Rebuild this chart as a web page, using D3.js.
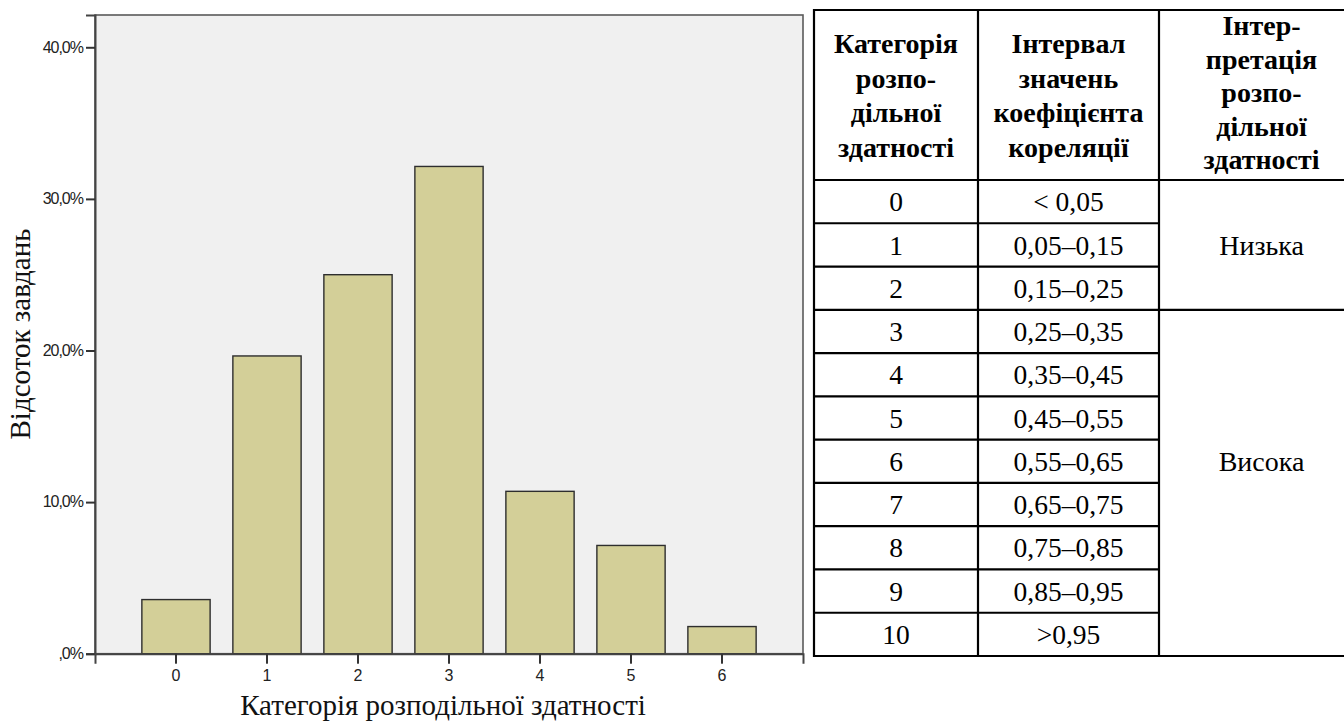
<!DOCTYPE html>
<html><head><meta charset="utf-8">
<script src="https://cdn.jsdelivr.net/npm/d3@7/dist/d3.min.js"></script>
<style>
body{margin:0;background:#fff;overflow:hidden;}
svg{display:block;}
</style></head>
<body>
<svg id="chart" width="1344" height="721"></svg>
<script>
// ---- Data ----
const categories = ["0","1","2","3","4","5","6"];
const percentValues = [3.57, 19.64, 25.0, 32.14, 10.71, 7.14, 1.79];
const yTickValues = [0, 10, 20, 30, 40];
const yTickLabels = [",0%", "10,0%", "20,0%", "30,0%", "40,0%"];
const xTitle = "Категорія розподільної здатності";
const yTitle = "Відсоток завдань";

const headerCols = [
  ["Категорія","розпо-","дільної","здатності"],
  ["Інтервал","значень","коефіцієнта","кореляції"],
  ["Інтер-","претація","розпо-","дільної","здатності"]
];
const tableCategories = ["0","1","2","3","4","5","6","7","8","9","10"];
const tableIntervals = ["< 0,05","0,05–0,15","0,15–0,25","0,25–0,35","0,35–0,45","0,45–0,55","0,55–0,65","0,65–0,75","0,75–0,85","0,85–0,95",">0,95"];
const interpretGroups = [
  {label:"Низька", from:0, to:2, labelRow:1},
  {label:"Висока", from:3, to:10, labelRow:6}
];

// ---- Chart ----
const svg = d3.select("#chart");
const plot = {left:95, right:803, top:15, bottom:653.7};
const serif = "'Liberation Serif', Tinos, 'Times New Roman', Times, 'DejaVu Serif', serif";
const tickFont = "'Liberation Sans', Arimo, Arial, sans-serif";

const x = d3.scaleBand().domain(categories).range([plot.left, plot.right])
  .paddingInner(0.25).paddingOuter(0.515);
const y = d3.scaleLinear().domain([0, 42.13]).range([plot.bottom, plot.top]);

svg.append("rect").attr("x",plot.left).attr("y",plot.top)
  .attr("width",plot.right-plot.left).attr("height",plot.bottom-plot.top)
  .attr("fill","#f0f0f0").attr("stroke","#5a5a5a").attr("stroke-width",1.6);

svg.append("g").selectAll("rect").data(percentValues).join("rect")
  .attr("x",(d,i)=>x(categories[i]))
  .attr("y",d=>y(d))
  .attr("width",x.bandwidth())
  .attr("height",d=>y(0)-y(d))
  .attr("fill","#d3cf98").attr("stroke","#2e2e2e").attr("stroke-width",1.4);

const yAxis = d3.axisLeft(y).tickValues(yTickValues)
  .tickFormat((d,i)=>yTickLabels[i]).tickSize(9).tickPadding(3);
const gy = svg.append("g").attr("transform",`translate(${plot.left},0)`).call(yAxis);
gy.attr("font-family",null).attr("font-size",null);
gy.select(".domain").attr("stroke","#444").attr("stroke-width",2);
gy.selectAll(".tick line").attr("stroke","#333").attr("stroke-width",2);
gy.selectAll(".tick text").style("font-family",tickFont).style("font-size","16px")
  .style("letter-spacing","-1px").attr("fill","#222").attr("dy","0.3em");

const xAxis = d3.axisBottom(x).tickSize(10).tickPadding(6);
const gx = svg.append("g").attr("transform",`translate(0,${plot.bottom})`).call(xAxis);
gx.attr("font-family",null).attr("font-size",null);
gx.select(".domain").attr("stroke","#444").attr("stroke-width",2);
gx.selectAll(".tick line").attr("stroke","#333").attr("stroke-width",2);
gx.selectAll(".tick text").style("font-family",tickFont).style("font-size","16px").attr("fill","#222");

svg.append("text").attr("x",443).attr("y",715)
  .attr("text-anchor","middle").style("font-family",serif)
  .style("font-size","29px").attr("fill","#111").text(xTitle);
svg.append("text").attr("transform","translate(30,334) rotate(-90)")
  .attr("text-anchor","middle").style("font-family",serif)
  .style("font-size","29px").attr("fill","#111").text(yTitle);

// ---- Table ----
const colX = [814, 978, 1159, 1364];
const tTop = 10, hBottom = 180, tBottom = 656;
const rowY = d3.scaleLinear().domain([0, tableCategories.length]).range([hBottom, tBottom]);
const tbl = svg.append("g");
const lineStyle = s => s.attr("stroke","#000").attr("stroke-width",2.2);

const headerLineH = [34.7, 34.7, 33.6];
const headerStartY = [53, 53, 35];
headerCols.forEach((lines,c)=>{
  const cx = (colX[c]+colX[c+1])/2;
  lines.forEach((t,k)=>{
    tbl.append("text").attr("x",cx).attr("y",headerStartY[c]+k*headerLineH[c])
      .attr("text-anchor","middle").style("font-family",serif).style("font-weight","bold")
      .style("font-size","28px").attr("fill","#000").text(t);
  });
});
tableCategories.forEach((t,i)=>{
  const cy = (rowY(i)+rowY(i+1))/2;
  tbl.append("text").attr("x",(colX[0]+colX[1])/2).attr("y",cy).attr("dy","0.35em")
    .attr("text-anchor","middle").style("font-family",serif).style("font-size","27.5px").attr("fill","#000").text(t);
  tbl.append("text").attr("x",(colX[1]+colX[2])/2).attr("y",cy).attr("dy","0.35em")
    .attr("text-anchor","middle").style("font-family",serif).style("font-size","27.5px").attr("fill","#000").text(tableIntervals[i]);
});
interpretGroups.forEach(g=>{
  const cy = (rowY(g.labelRow)+rowY(g.labelRow+1))/2;
  tbl.append("text").attr("x",(colX[2]+colX[3])/2).attr("y",cy).attr("dy","0.35em")
    .attr("text-anchor","middle").style("font-family",serif).style("font-size","28px").attr("fill","#000").text(g.label);
});
lineStyle(tbl.append("line").attr("x1",colX[0]-1).attr("x2",colX[3]+1).attr("y1",tTop).attr("y2",tTop));
lineStyle(tbl.append("line").attr("x1",colX[0]).attr("x2",colX[3]).attr("y1",hBottom).attr("y2",hBottom));
lineStyle(tbl.append("line").attr("x1",colX[0]-1).attr("x2",colX[3]+1).attr("y1",tBottom).attr("y2",tBottom));
colX.forEach(xx=>lineStyle(tbl.append("line").attr("x1",xx).attr("x2",xx).attr("y1",tTop-1).attr("y2",tBottom+1)));
d3.range(1, tableCategories.length).forEach(i=>{
  const inGroupEnd = interpretGroups.some(g=>g.to+1===i);
  lineStyle(tbl.append("line").attr("x1",colX[0]).attr("x2",inGroupEnd?colX[3]:colX[2])
    .attr("y1",rowY(i)).attr("y2",rowY(i)));
});
</script>
</body></html>
